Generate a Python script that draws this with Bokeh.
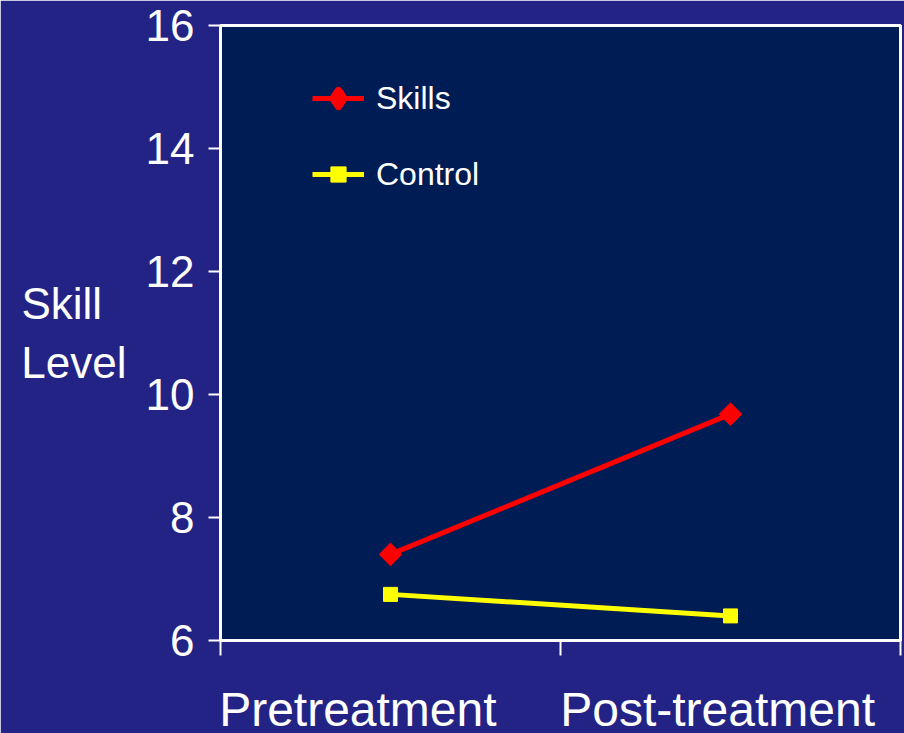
from bokeh.plotting import figure
from bokeh.models import FixedTicker, Legend, LegendItem
from bokeh.embed import file_html
from bokeh.resources import INLINE
import math

categories = ["Pretreatment", "Post-treatment"]
skills = [7.4, 9.68]
control = [6.75, 6.4]
y_ticks = [6, 8, 10, 12, 14, 16]
y_title = "Skill\u00a0\u00a0\nLevel"

FONT = "Liberation Sans"
OUTER = "#232386"
INNER = "#001C54"

xs = [i + 0.5 for i in range(len(categories))]
bounds = list(range(len(categories) + 1))
# label anchors: category labels start at the left edge of each category
label_pos = [0.404, 1.462]

p = figure(frame_width=680, frame_height=615, output_backend="svg", toolbar_location=None,
           x_range=(0, len(categories)), y_range=(6, 16),
           min_border_left=220, min_border_right=4, min_border_top=25, min_border_bottom=93)
p.background_fill_color = INNER
p.border_fill_color = OUTER
p.outline_line_color = "white"
p.outline_line_width = 3
p.grid.visible = False

xa = p.xaxis[0]
xa.ticker = FixedTicker(ticks=label_pos, minor_ticks=bounds)
xa.major_label_overrides = {x: c for x, c in zip(label_pos, categories)}
xa.major_tick_out = 15
xa.major_tick_in = 0
xa.major_tick_line_color = None
xa.minor_tick_out = 15
xa.minor_tick_in = 0
xa.minor_tick_line_color = "white"
xa.minor_tick_line_width = 2
xa.axis_line_color = "white"
xa.axis_line_width = 3
xa.major_label_text_font = FONT
xa.major_label_text_font_size = "48px"
xa.major_label_text_color = "white"
xa.major_label_standoff = 27

ya = p.yaxis[0]
ya.ticker = FixedTicker(ticks=y_ticks, minor_ticks=[])
ya.major_tick_out = 12
ya.major_tick_in = 0
ya.major_tick_line_color = "white"
ya.major_tick_line_width = 2
ya.axis_line_color = "white"
ya.axis_line_width = 3
ya.major_label_text_font = FONT
ya.major_label_text_font_size = "44px"
ya.major_label_text_color = "white"
ya.major_label_standoff = 14
ya.axis_label = y_title
ya.axis_label_orientation = "horizontal"
ya.axis_label_text_font = FONT
ya.axis_label_text_font_size = "44px"
ya.axis_label_text_font_style = "normal"
ya.axis_label_text_color = "white"
ya.axis_label_text_line_height = 1.22
ya.axis_label_standoff = 16

l1 = p.line(xs, skills, line_color="red", line_width=5)
# legend swatch for the diamond marker (legend swatches are drawn unrotated);
# drawn tiny underneath the real markers
m1_key = p.scatter(xs, skills, marker="diamond", size=1, fill_color="red",
                   line_color="red", line_width=8, line_join="round")
m1 = p.scatter(xs, skills, marker="square", angle=math.pi / 4, size=16,
               fill_color="red", line_color="red")
l2 = p.line(xs, control, line_color="yellow", line_width=5)
m2 = p.scatter(xs, control, marker="square", size=14, fill_color="yellow", line_color="yellow")

legend = Legend(items=[LegendItem(label="Skills", renderers=[l1, m1_key]),
                       LegendItem(label="Control", renderers=[l2, m2])],
                location=(92, 447), background_fill_alpha=0, border_line_alpha=0,
                label_text_font=FONT, label_text_font_size="32px", label_text_color="white",
                glyph_width=52, glyph_height=38, label_height=38, spacing=38,
                label_standoff=12, margin=0, padding=0)
p.add_layout(legend)

open("out.html", "w").write(file_html(p, INLINE))
